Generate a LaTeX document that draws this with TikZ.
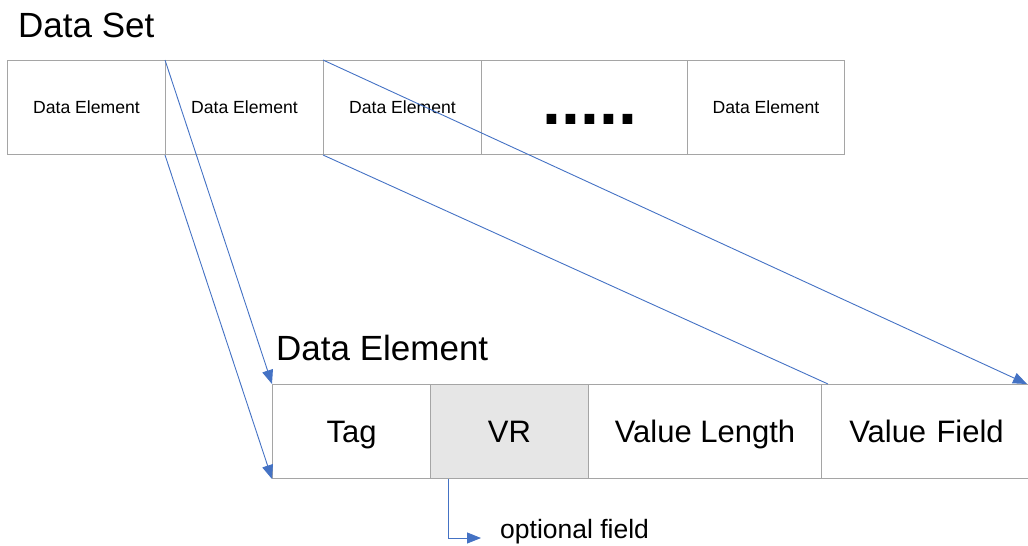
\documentclass[tikz,border=0pt]{standalone}
\usepackage{fontspec}
\setmainfont{Liberation Sans}
\usetikzlibrary{arrows.meta,calc}
\definecolor{bordergray}{RGB}{165,165,165}
\definecolor{linkblue}{RGB}{68,114,196}
\definecolor{vrfill}{RGB}{230,230,230}
\begin{document}
\begin{tikzpicture}[x=1pt,y=-1pt,
  cell/.style={draw=bordergray,line width=1pt,inner sep=0pt,anchor=north west,minimum height=94pt,text height=12.5pt,text depth=0pt,font=\fontsize{17.6}{20}\selectfont},
  bigcell/.style={cell,text height=22pt,text depth=0pt,font=\fontsize{31}{34}\selectfont},
  link/.style={draw=linkblue,line width=0.9pt},
  tip/.style={-{Triangle[length=14pt,width=11pt]}},
  title/.style={anchor=base west,inner sep=0pt,font=\fontsize{35}{40}\selectfont}
]
\useasboundingbox (0,0) rectangle (1028,546);
% top row
\node[cell,minimum width=158pt] (d1) at (7,60) {Data Element};
\node[cell,minimum width=158pt] (d2) at (165,60) {Data Element};
\node[cell,minimum width=158pt] (d3) at (323,60) {Data Element};
\node[cell,minimum width=206pt] (d4) at (481,60) {};
\node[cell,minimum width=157pt] (d5) at (687,60) {Data Element};
\node[anchor=base,inner sep=0pt,font=\bfseries\fontsize{68}{70}\selectfont] (dots) at (590,124) {.....};
% bottom row
\node[bigcell,minimum width=158pt] (tag) at (272,384) {Tag};
\node[bigcell,minimum width=158pt,fill=vrfill] (vr) at (430,384) {VR};
\node[bigcell,minimum width=233pt] (vl) at (588,384) {Value Length};
\node[bigcell,minimum width=210pt,text width=207pt,align=center] (vf) at (821,384) {Value Field};
% titles
\node[title] (ds) at (18,37) {Data Set};
\node[title] (de) at (276,360) {Data Element};
% connectors
\coordinate (vftop) at ($(vf.north west)+(7,0)$);
\coordinate (vfend) at (1027,384);
\draw[link,tip] (d2.north west) -- (tag.north west);
\draw[link,tip] (d2.south west) -- (tag.south west);
\draw[link,tip] (d3.north west) -- (vfend);
\draw[link] (d3.south west) -- (vftop);
% optional field
\coordinate (vrs) at ($(vr.south west)+(18,0)$);
\coordinate (optend) at (481,538);
\draw[link,tip] (vrs) |- (optend);
\node[anchor=base west,inner sep=0pt,font=\fontsize{26.5}{30}\selectfont] (opt) at (500,538) {optional field};
\end{tikzpicture}
\end{document}
